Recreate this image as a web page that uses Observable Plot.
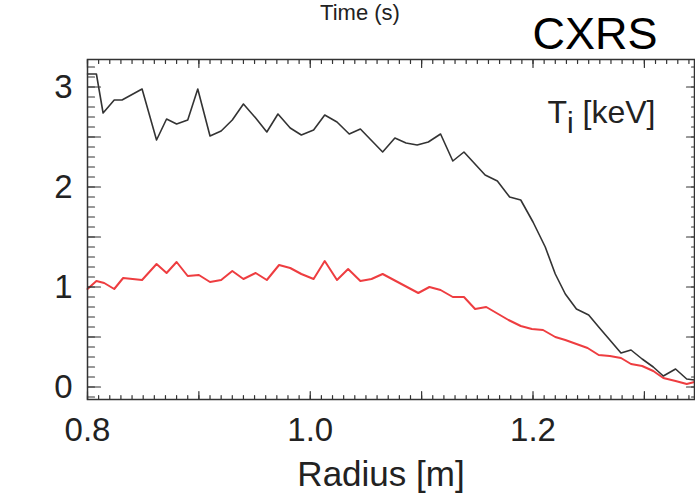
<!DOCTYPE html>
<html>
<head>
<meta charset="utf-8">
<script src="https://cdn.jsdelivr.net/npm/d3@7"></script>
<script src="https://cdn.jsdelivr.net/npm/@observablehq/plot@0.6"></script>
<style>
  html, body { margin: 0; padding: 0; background: #fff; }
  #chart svg { display: block; }
</style>
</head>
<body>
<div id="chart"></div>
<script>
// Black profile (Ti, CXRS)
const radiusBlack = [0.800,0.808,0.814,0.824,0.831,0.849,0.862,0.871,0.880,0.890,0.899,0.910,0.920,0.930,0.940,0.951,0.961,0.971,0.982,0.992,1.003,1.013,1.024,1.035,1.045,1.065,1.076,1.086,1.096,1.106,1.117,1.128,1.138,1.157,1.168,1.179,1.189,1.200,1.211,1.220,1.229,1.239,1.250,1.259,1.269,1.279,1.288,1.298,1.308,1.317,1.328,1.338,1.345];
const tiBlack = [3.13,3.13,2.74,2.87,2.87,2.98,2.47,2.68,2.63,2.67,2.98,2.51,2.56,2.67,2.83,2.69,2.55,2.73,2.59,2.52,2.57,2.72,2.65,2.53,2.58,2.35,2.49,2.44,2.42,2.45,2.53,2.26,2.35,2.12,2.06,1.90,1.87,1.65,1.40,1.13,0.93,0.78,0.72,0.60,0.47,0.34,0.37,0.28,0.20,0.11,0.18,0.08,0.07];

// Red profile
const radiusRed = [0.800,0.808,0.815,0.824,0.832,0.849,0.862,0.871,0.880,0.890,0.900,0.910,0.920,0.930,0.940,0.951,0.961,0.972,0.982,0.992,1.003,1.013,1.024,1.034,1.045,1.055,1.065,1.097,1.107,1.117,1.128,1.138,1.148,1.158,1.178,1.189,1.199,1.209,1.220,1.229,1.239,1.249,1.259,1.269,1.279,1.288,1.298,1.308,1.317,1.328,1.338,1.345];
const tiRed = [0.98,1.06,1.04,0.98,1.09,1.07,1.23,1.14,1.25,1.11,1.12,1.05,1.07,1.16,1.08,1.14,1.07,1.22,1.19,1.13,1.08,1.26,1.07,1.18,1.06,1.08,1.13,0.94,1.00,0.97,0.90,0.90,0.78,0.80,0.67,0.61,0.58,0.57,0.50,0.47,0.43,0.39,0.32,0.31,0.29,0.23,0.21,0.16,0.09,0.06,0.03,0.05];

// Axis ticks
const xTickLabels = [0.8, 1.0, 1.2];
const xMajorTicks = [0.8, 0.9, 1.0, 1.1, 1.2, 1.3];
const xMinorTicks = d3.range(80, 135).map(d => d / 100);
const yTickLabels = [0, 1, 2, 3];
const yMajorTicks = [0, 0.5, 1, 1.5, 2, 2.5, 3];
const yMinorTicks = d3.range(-1, 33).map(d => d / 10);

const blackData = radiusBlack.map((r, i) => ({r, v: tiBlack[i]}));
const redData = radiusRed.map((r, i) => ({r, v: tiRed[i]}));

const ink = "#222";
const tk = "#333";

// inward tick marks drawn as plain vectors (no arrowhead) from the frame edge
const tickBottom = (ticks, len) => Plot.vector(ticks, {x: d => d, frameAnchor: "bottom", length: len, rotate: 0, anchor: "start", r: 0, stroke: tk, strokeWidth: 1.2});
const tickTop = (ticks, len) => Plot.vector(ticks, {x: d => d, frameAnchor: "top", length: len, rotate: 180, anchor: "start", r: 0, stroke: tk, strokeWidth: 1.2});
const tickLeft = (ticks, len) => Plot.vector(ticks, {y: d => d, frameAnchor: "left", length: len, rotate: 90, anchor: "start", r: 0, stroke: tk, strokeWidth: 1.2});
const tickRight = (ticks, len) => Plot.vector(ticks, {y: d => d, frameAnchor: "right", length: len, rotate: -90, anchor: "start", r: 0, stroke: tk, strokeWidth: 1.2});

const chart = Plot.plot({
  width: 695,
  height: 493,
  marginLeft: 87,
  marginRight: 1,
  marginTop: 59,
  marginBottom: 94,
  style: {fontFamily: "'Liberation Sans', Arial, Helvetica, sans-serif", color: ink, background: "#fff", overflow: "visible"},
  x: {domain: [0.8, 1.345], label: null},
  y: {domain: [-0.125, 3.275], label: null},
  marks: [
    Plot.line(redData, {x: "r", y: "v", stroke: "#ee3d40", strokeWidth: 2}),
    Plot.line(blackData, {x: "r", y: "v", stroke: "#333", strokeWidth: 1.6}),
    tickBottom(xMinorTicks, 4),
    tickBottom(xMajorTicks, 8),
    tickTop(xMinorTicks, 4),
    tickTop(xMajorTicks, 8),
    tickLeft(yMinorTicks, 7),
    tickLeft(yMajorTicks, 13),
    tickRight(yMinorTicks, 3),
    tickRight(yMajorTicks, 8),
    Plot.axisX({anchor: "bottom", ticks: xTickLabels, tickSize: 0, tickPadding: 18, tickFormat: d3.format(".1f"), fontSize: 33, fill: ink, label: null}),
    Plot.axisY({anchor: "left", ticks: yTickLabels, tickSize: 0, tickPadding: 15, tickFormat: d3.format("d"), fontSize: 33, fill: ink, label: null}),
    Plot.frame({stroke: "#333", strokeWidth: 1.5}),
    // texts
    Plot.text(["Ti [keV]"], {frameAnchor: "top-right", textAnchor: "end", lineAnchor: "bottom", dx: -39, dy: 63, fontSize: 32, fill: ink, className: "tilabel"}),
    Plot.text(["CXRS"], {frameAnchor: "top-right", textAnchor: "end", lineAnchor: "bottom", dx: -37, dy: -11, fontSize: 45, fill: "#000"}),
    Plot.text(["Time (s)"], {frameAnchor: "top", lineAnchor: "bottom", dx: -31, dy: -40, fontSize: 22, fill: ink}),
    Plot.text(["Radius [m]"], {frameAnchor: "bottom", lineAnchor: "bottom", dx: -10, dy: 86, fontSize: 35, fill: ink})
  ]
});

document.getElementById("chart").appendChild(chart);

// Turn "Ti" into T with subscript i
const tEl = chart.querySelector("g.tilabel text");
if (tEl) {
  const ns = "http://www.w3.org/2000/svg";
  tEl.textContent = "T";
  const sub = document.createElementNS(ns, "tspan");
  sub.setAttribute("dy", "10");
  sub.setAttribute("font-size", "30");
  sub.textContent = "i";
  const rest = document.createElementNS(ns, "tspan");
  rest.setAttribute("dy", "-10");
  rest.textContent = " [keV]";
  tEl.appendChild(sub);
  tEl.appendChild(rest);
}
</script>
</body>
</html>
